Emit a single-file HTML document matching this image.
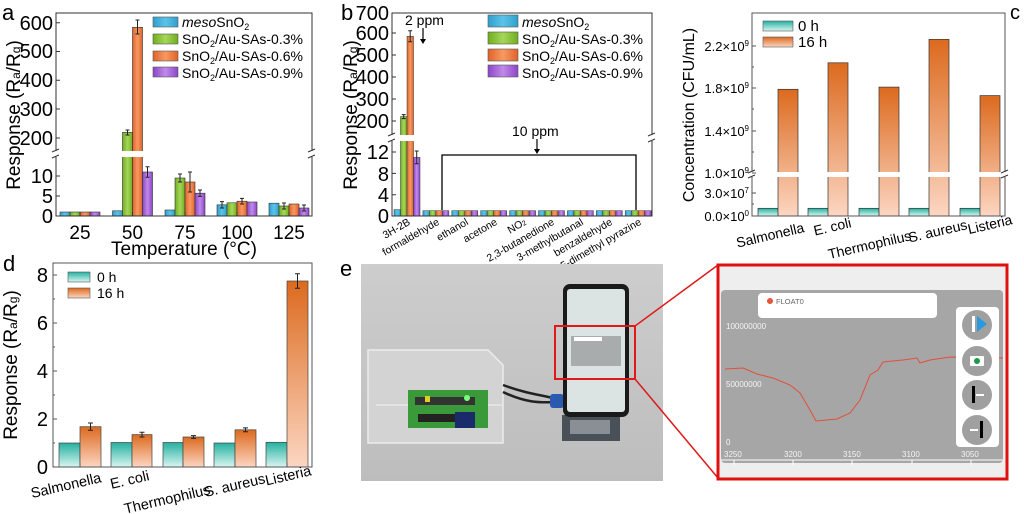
<!DOCTYPE html>
<html><head><meta charset="utf-8"><style>
html,body{margin:0;padding:0;background:#fff}
svg{display:block}
text{font-family:"Liberation Sans",Arial,sans-serif;fill:#000}
</style></head><body>
<svg width="1024" height="514" viewBox="0 0 1024 514" xmlns="http://www.w3.org/2000/svg">
<defs>
<linearGradient id="gB" x1="0" x2="1"><stop offset="0" stop-color="#2f9fce"/><stop offset="0.5" stop-color="#5cc3e8"/><stop offset="1" stop-color="#2f9fce"/></linearGradient>
<linearGradient id="gG" x1="0" x2="1"><stop offset="0" stop-color="#6fae1f"/><stop offset="0.5" stop-color="#a6d65a"/><stop offset="1" stop-color="#6fae1f"/></linearGradient>
<linearGradient id="gO" x1="0" x2="1"><stop offset="0" stop-color="#e0622a"/><stop offset="0.5" stop-color="#f79a62"/><stop offset="1" stop-color="#e0622a"/></linearGradient>
<linearGradient id="gP" x1="0" x2="1"><stop offset="0" stop-color="#8c45c8"/><stop offset="0.5" stop-color="#c08ae8"/><stop offset="1" stop-color="#8c45c8"/></linearGradient>
<linearGradient id="gT" x1="0" y1="0" x2="0" y2="1"><stop offset="0" stop-color="#25b0a0"/><stop offset="1" stop-color="#d8f6f1"/></linearGradient>
<linearGradient id="gR" x1="0" y1="0" x2="0" y2="1"><stop offset="0" stop-color="#dc6a1e"/><stop offset="1" stop-color="#fcd6c2"/></linearGradient>
<linearGradient id="gPh" x1="0" y1="0" x2="0" y2="1"><stop offset="0" stop-color="#cdcdcd"/><stop offset="1" stop-color="#bdbdbd"/></linearGradient>
<g id="g1" stroke="#333" stroke-width="0.5"><rect x="0" y="210.7" width="6.5" height="5.3" fill="url(#gB)"/><rect x="6.5" y="210.7" width="6.5" height="5.3" fill="url(#gG)"/><rect x="13" y="210.7" width="6.5" height="5.3" fill="url(#gO)"/><rect x="19.5" y="210.7" width="6.5" height="5.3" fill="url(#gP)"/></g>
</defs>

<!-- ===== Panel a ===== -->
<text x="2" y="20" font-size="22">a</text>
<g stroke="#333" stroke-width="0.6">
<rect x="60" y="212" width="10" height="4" fill="url(#gB)"/><rect x="70" y="212" width="10" height="4" fill="url(#gG)"/><rect x="80" y="212" width="10" height="4" fill="url(#gO)"/><rect x="90" y="212" width="10" height="4" fill="url(#gP)"/>
<rect x="112.5" y="210.8" width="10" height="5.2" fill="url(#gB)"/>
<rect x="122.5" y="132.3" width="10" height="83.7" fill="url(#gG)"/>
<rect x="132.5" y="27.3" width="10" height="188.7" fill="url(#gO)"/>
<rect x="142.5" y="172" width="10" height="44" fill="url(#gP)"/>
<rect x="165" y="210" width="10" height="6" fill="url(#gB)"/>
<rect x="175" y="178" width="10" height="38" fill="url(#gG)"/>
<rect x="185" y="182" width="10" height="34" fill="url(#gO)"/>
<rect x="195" y="193.2" width="10" height="22.8" fill="url(#gP)"/>
<rect x="217" y="204.8" width="10" height="11.2" fill="url(#gB)"/>
<rect x="227" y="202.8" width="10" height="13.2" fill="url(#gG)"/>
<rect x="237" y="201.2" width="10" height="14.8" fill="url(#gO)"/>
<rect x="247" y="202" width="10" height="14" fill="url(#gP)"/>
<rect x="269" y="203.2" width="10" height="12.8" fill="url(#gB)"/>
<rect x="279" y="206" width="10" height="10" fill="url(#gG)"/>
<rect x="289" y="204" width="10" height="12" fill="url(#gO)"/>
<rect x="299" y="208" width="10" height="8" fill="url(#gP)"/>
</g>
<g stroke="#222" stroke-width="1">
<path d="M127.5 130v5M125.5 130h4M125.5 135h4"/>
<path d="M137.5 20v14M135.5 20h4M135.5 34h4"/>
<path d="M147.5 166.8v10.4M145.5 166.8h4M145.5 177.2h4"/>
<path d="M180 174v8M178 174h4M178 182h4"/>
<path d="M190 172v20M188 172h4M188 192h4"/>
<path d="M200 190v6.4M198 190h4M198 196.4h4"/>
<path d="M222 201.6v6.4M220 201.6h4M220 208h4"/>
<path d="M242 198.4v5.6M240 198.4h4M240 204h4"/>
<path d="M284 203v6M282 203h4M282 209h4"/>
<path d="M304 205v6M302 205h4M302 211h4"/>
</g>
<rect x="57" y="151" width="254" height="6" fill="#fff"/>
<rect x="56" y="13" width="256" height="203" fill="none" stroke="#333" stroke-width="1"/>
<rect x="53" y="151" width="6" height="6" fill="#fff"/><rect x="309" y="151" width="6" height="6" fill="#fff"/>
<path d="M52 152l7-3M52 158l7-3M308 152l7-3M308 158l7-3" stroke="#333" stroke-width="1"/>
<g stroke="#333" stroke-width="1"><path d="M56 22.7h4M56 51.5h4M56 80.3h4M56 109h4M56 138h4M56 176h4M56 196h4M80 216v-4M132.5 216v-4M185 216v-4M237 216v-4M289 216v-4"/></g>
<g font-size="20" text-anchor="end"><text x="53" y="30">600</text><text x="53" y="58">500</text><text x="53" y="87">400</text><text x="53" y="116">300</text><text x="53" y="145">200</text><text x="53" y="183">10</text><text x="53" y="203">5</text><text x="53" y="223">0</text></g>
<g font-size="19" text-anchor="middle"><text x="80" y="239">25</text><text x="132.5" y="239">50</text><text x="185" y="239">75</text><text x="237" y="239">100</text><text x="289" y="239">125</text><text x="184" y="255">Temperature (°C)</text></g>
<text transform="translate(20,115) rotate(-90)" font-size="19" text-anchor="middle">Response (R<tspan font-size="12">a</tspan>/R<tspan font-size="12">g</tspan>)</text>
<g stroke="#555" stroke-width="0.6"><rect x="153" y="17" width="25" height="10" fill="url(#gB)"/><rect x="153" y="34" width="25" height="10" fill="url(#gG)"/><rect x="153" y="51" width="25" height="10" fill="url(#gO)"/><rect x="153" y="67" width="25" height="10" fill="url(#gP)"/></g>
<g font-size="14"><text x="182" y="27"><tspan font-style="italic">meso</tspan>SnO<tspan font-size="9" dy="3">2</tspan></text><text x="182" y="44">SnO<tspan font-size="9" dy="3">2</tspan><tspan dy="-3">/Au-SAs-0.3%</tspan></text><text x="182" y="61">SnO<tspan font-size="9" dy="3">2</tspan><tspan dy="-3">/Au-SAs-0.6%</tspan></text><text x="182" y="78">SnO<tspan font-size="9" dy="3">2</tspan><tspan dy="-3">/Au-SAs-0.9%</tspan></text></g>

<!-- ===== Panel b ===== -->
<text x="341" y="20" font-size="22">b</text>
<g stroke="#333" stroke-width="0.5">
<rect x="394" y="209.6" width="6.5" height="6.4" fill="url(#gB)"/>
<rect x="400.5" y="116.6" width="6.5" height="99.4" fill="url(#gG)"/>
<rect x="407" y="36.3" width="6.5" height="179.7" fill="url(#gO)"/>
<rect x="413.5" y="157.4" width="6.5" height="58.6" fill="url(#gP)"/>
</g>
<use href="#g1" x="422.9"/><use href="#g1" x="451.8"/><use href="#g1" x="480.7"/><use href="#g1" x="509.6"/><use href="#g1" x="538.5"/><use href="#g1" x="567.4"/><use href="#g1" x="596.3"/><use href="#g1" x="625.2"/>
<g stroke="#222" stroke-width="1"><path d="M403.7 114.6v4M401.7 114.6h4M401.7 118.6h4M410.2 30.8v11M408.2 30.8h4M408.2 41.8h4M416.7 151v12.8M414.7 151h4M414.7 163.8h4"/></g>
<rect x="393" y="135" width="258" height="6" fill="#fff"/>
<rect x="392" y="13" width="260" height="203" fill="none" stroke="#333" stroke-width="1"/>
<rect x="389" y="135" width="6" height="6" fill="#fff"/><rect x="649" y="135" width="6" height="6" fill="#fff"/>
<path d="M388 136l7-3M388 142l7-3M648 136l7-3M648 142l7-3" stroke="#333" stroke-width="1"/>
<g stroke="#333" stroke-width="1"><path d="M392 33h4M392 55h4M392 77h4M392 99h4M392 121h4M392 152h4M392 173.4h4M392 194.7h4"/></g>
<g font-size="20" text-anchor="end"><text x="389" y="20">700</text><text x="389" y="40">600</text><text x="389" y="62">500</text><text x="389" y="84">400</text><text x="389" y="106">300</text><text x="389" y="128">200</text><text x="389" y="159">12</text><text x="389" y="181">8</text><text x="389" y="202">4</text><text x="389" y="223">0</text></g>
<text transform="translate(357,115) rotate(-90)" font-size="19" text-anchor="middle">Response (R<tspan font-size="12">a</tspan>/R<tspan font-size="12">g</tspan>)</text>
<text x="405" y="25" font-size="14">2 ppm</text>
<path d="M423 28v13" stroke="#000" stroke-width="1.2"/><path d="M420 39l3 5 3-5z"/>
<text x="512" y="136" font-size="14">10 ppm</text>
<path d="M537 139v12" stroke="#000" stroke-width="1.2"/><path d="M534 149l3 5 3-5z"/>
<path d="M442 210V155H636V210" fill="none" stroke="#000" stroke-width="1.3"/>
<g font-size="10.5" text-anchor="end">
<text transform="translate(411,224) rotate(-30)">3H-2B</text>
<text transform="translate(440,224) rotate(-30)">formaldehyde</text>
<text transform="translate(469,224) rotate(-30)">ethanol</text>
<text transform="translate(498,224) rotate(-30)">acetone</text>
<text transform="translate(527,224) rotate(-30)">NO<tspan font-size="7">2</tspan></text>
<text transform="translate(555,224) rotate(-30)">2,3-butanedione</text>
<text transform="translate(584,224) rotate(-30)">3-methylbutanal</text>
<text transform="translate(613,224) rotate(-30)">benzaldehyde</text>
<text transform="translate(642,224) rotate(-30)">2,5-dimethyl pyrazine</text>
</g>
<g stroke="#555" stroke-width="0.6"><rect x="488" y="15" width="30" height="12" fill="url(#gB)"/><rect x="488" y="32" width="30" height="12" fill="url(#gG)"/><rect x="488" y="49" width="30" height="12" fill="url(#gO)"/><rect x="488" y="65" width="30" height="12" fill="url(#gP)"/></g>
<g font-size="14"><text x="522" y="27"><tspan font-style="italic">meso</tspan>SnO<tspan font-size="9" dy="3">2</tspan></text><text x="522" y="44">SnO<tspan font-size="9" dy="3">2</tspan><tspan dy="-3">/Au-SAs-0.3%</tspan></text><text x="522" y="61">SnO<tspan font-size="9" dy="3">2</tspan><tspan dy="-3">/Au-SAs-0.6%</tspan></text><text x="522" y="78">SnO<tspan font-size="9" dy="3">2</tspan><tspan dy="-3">/Au-SAs-0.9%</tspan></text></g>

<!-- ===== Panel c ===== -->
<text x="1010" y="19" font-size="20">c</text>
<g stroke="#333" stroke-width="0.7">
<rect x="758" y="208.3" width="20" height="7.7" fill="url(#gT)"/><rect x="778" y="89.3" width="20" height="126.7" fill="url(#gR)"/>
<rect x="808" y="208.3" width="20" height="7.7" fill="url(#gT)"/><rect x="828" y="62.8" width="20" height="153.2" fill="url(#gR)"/>
<rect x="859" y="208.3" width="20" height="7.7" fill="url(#gT)"/><rect x="879" y="87.1" width="20" height="128.9" fill="url(#gR)"/>
<rect x="909" y="208.3" width="20" height="7.7" fill="url(#gT)"/><rect x="929" y="39.4" width="20" height="176.6" fill="url(#gR)"/>
<rect x="960" y="208.3" width="20" height="7.7" fill="url(#gT)"/><rect x="980" y="95.6" width="20" height="120.4" fill="url(#gR)"/>
</g>
<rect x="753" y="172" width="251" height="5" fill="#fff"/>
<rect x="752" y="13" width="253" height="203" fill="none" stroke="#555" stroke-width="1"/>
<rect x="749" y="172" width="6" height="5" fill="#fff"/><rect x="1002" y="172" width="6" height="5" fill="#fff"/>
<path d="M748 173l7-3M748 178l7-3M1001 173l7-3M1001 178l7-3" stroke="#333" stroke-width="1"/>
<g stroke="#555" stroke-width="1"><path d="M752 46h4M752 88h4M752 131h4M752 173h4M752 193h4M752 67h2M752 109h2M752 152h2M752 204h2M778 216v-4M828 216v-4M879 216v-4M929 216v-4M980 216v-4"/></g>
<g font-size="13" text-anchor="end" fill="#333"><text x="749" y="51">2.2×10<tspan font-size="8" dy="-5">9</tspan></text><text x="749" y="93">1.8×10<tspan font-size="8" dy="-5">9</tspan></text><text x="749" y="136">1.4×10<tspan font-size="8" dy="-5">9</tspan></text><text x="749" y="178">1.0×10<tspan font-size="8" dy="-5">9</tspan></text><text x="749" y="198">3.0×10<tspan font-size="8" dy="-5">7</tspan></text><text x="749" y="221">0.0×10<tspan font-size="8" dy="-5">0</tspan></text></g>
<text transform="translate(694,115) rotate(-90)" font-size="16" text-anchor="middle">Concentration (CFU/mL)</text>
<g stroke="#555" stroke-width="0.6"><rect x="763" y="21" width="30" height="10" fill="url(#gT)"/><rect x="763" y="37" width="30" height="10" fill="url(#gR)"/></g>
<g font-size="15"><text x="798" y="31">0 h</text><text x="798" y="47">16 h</text></g>
<g font-size="14" text-anchor="end">
<text transform="translate(805,232) rotate(-13)">Salmonella</text>
<text transform="translate(852,227) rotate(-13)">E. coli</text>
<text transform="translate(912,240) rotate(-13)">Thermophilus</text>
<text transform="translate(968,229) rotate(-13)">S. aureus</text>
<text transform="translate(1013,224) rotate(-13)">Listeria</text>
</g>

<!-- ===== Panel d ===== -->
<text x="3" y="271" font-size="22">d</text>
<g stroke="#444" stroke-width="0.7">
<rect x="59" y="443" width="21" height="24" fill="url(#gT)"/><rect x="80" y="426.7" width="21" height="40.3" fill="url(#gR)"/>
<rect x="111" y="442.5" width="21" height="24.5" fill="url(#gT)"/><rect x="132" y="434.6" width="20" height="32.4" fill="url(#gR)"/>
<rect x="163" y="442.5" width="20" height="24.5" fill="url(#gT)"/><rect x="183" y="437" width="21" height="30" fill="url(#gR)"/>
<rect x="214" y="443" width="21" height="24" fill="url(#gT)"/><rect x="235" y="429.8" width="21" height="37.2" fill="url(#gR)"/>
<rect x="266" y="442.3" width="21" height="24.7" fill="url(#gT)"/><rect x="287" y="281" width="21" height="186" fill="url(#gR)"/>
</g>
<g stroke="#222" stroke-width="1"><path d="M90.5 423v7.2M88 423h5M88 430.2h5M142 432.2v4.8M139.5 432.2h5M139.5 437h5M193.5 435.6v2.8M191 435.6h5M191 438.4h5M245.5 427.9v3.8M243 427.9h5M243 431.7h5M297.5 273.8v14.4M295 273.8h5M295 288.2h5"/></g>
<rect x="53" y="263" width="259" height="204" fill="none" stroke="#555" stroke-width="1"/>
<g stroke="#555" stroke-width="1"><path d="M53 275h4M53 323h4M53 371h4M53 419h4M53 299h2M53 347h2M53 395h2M53 443h2M80 467v-4M132 467v-4M183 467v-4M235 467v-4M287 467v-4"/></g>
<g font-size="20" text-anchor="end"><text x="48" y="282">8</text><text x="48" y="330">6</text><text x="48" y="378">4</text><text x="48" y="426">2</text><text x="48" y="474">0</text></g>
<text transform="translate(17,365) rotate(-90)" font-size="19" text-anchor="middle">Response (R<tspan font-size="12">a</tspan>/R<tspan font-size="12">g</tspan>)</text>
<g stroke="#555" stroke-width="0.6"><rect x="68" y="272" width="22" height="10" fill="url(#gT)"/><rect x="68" y="288" width="22" height="10" fill="url(#gR)"/></g>
<g font-size="14"><text x="97" y="282">0 h</text><text x="97" y="298">16 h</text></g>
<g font-size="14.5" text-anchor="end">
<text transform="translate(102,482) rotate(-13)">Salmonella</text>
<text transform="translate(150,480) rotate(-13)">E. coli</text>
<text transform="translate(211,494) rotate(-13)">Thermophilus</text>
<text transform="translate(266,483) rotate(-13)">S. aureus</text>
<text transform="translate(312,475) rotate(-13)">Listeria</text>
</g>

<!-- ===== Panel e ===== -->
<text x="340" y="276" font-size="22">e</text>
<rect x="361" y="264" width="302" height="217" fill="url(#gPh)"/>
<path d="M368 350L488 350L503 365L503 443L368 443Z" fill="#d3d3d3" stroke="#ececec" stroke-width="1.5"/>
<path d="M376 405L503 405" stroke="#e8e8e8" stroke-width="1.5"/>
<rect x="408" y="390" width="80" height="38" fill="#3a9a3a"/>
<rect x="415" y="397" width="60" height="8" fill="#333"/>
<rect x="418" y="414" width="40" height="8" fill="#222"/>
<rect x="455" y="412" width="20" height="16" fill="#1a2a6a"/>
<circle cx="467" cy="398" r="3" fill="#7cff7c"/>
<rect x="425" y="396" width="5" height="6" fill="#e0d020"/>
<path d="M503 385C530 395 545 395 560 400M503 392C530 405 545 402 560 402" stroke="#222" stroke-width="2.5" fill="none"/>
<rect x="550" y="394" width="14" height="14" rx="3" fill="#2a5ab0"/>
<rect x="562" y="415" width="58" height="26" fill="#4a5058"/>
<rect x="570" y="420" width="40" height="14" fill="#8a8f95"/>
<rect x="563" y="284" width="66" height="133" rx="7" fill="#1a1a1a"/>
<rect x="567" y="289" width="58" height="123" rx="3" fill="#dbe3e3"/>
<rect x="571" y="336" width="50" height="30" fill="#a8acac"/>
<rect x="574" y="337" width="28" height="4" fill="#fff"/>
<rect x="555" y="326" width="80" height="53" fill="none" stroke="#e01818" stroke-width="2"/>
<path d="M635 326L718 265M635 379L718 478" stroke="#e01818" stroke-width="1.5"/>
<rect x="718" y="265" width="289" height="214" fill="#eeeeee" stroke="#e01010" stroke-width="3"/>
<rect x="721" y="290" width="282" height="173" rx="4" fill="#a6a6a6"/>
<rect x="758" y="293" width="179" height="25" rx="4" fill="#fff"/>
<circle cx="770" cy="301" r="3" fill="#e8553a"/>
<text x="776" y="304" font-size="7.5" style="fill:#666">FLOAT0</text>
<g font-size="8"><text x="726" y="329" style="fill:#f4f4f4">100000000</text><text x="726" y="387" style="fill:#f4f4f4">50000000</text><text x="726" y="445" style="fill:#f4f4f4">0</text>
<text x="724" y="457" style="fill:#f4f4f4">3250</text><text x="784" y="457" style="fill:#f4f4f4">3200</text><text x="843" y="457" style="fill:#f4f4f4">3150</text><text x="902" y="457" style="fill:#f4f4f4">3100</text><text x="961" y="457" style="fill:#f4f4f4">3050</text></g>
<path d="M721 460H1003M734 460v5M793 460v5M852 460v5M912 460v5M971 460v5" stroke="#fff" stroke-width="1"/>
<polyline points="725,369 743,368 757,374 773,378 790,385 800,393 810,410 816,421 837,419 850,413 860,400 870,375 878,370 883,362 903,360 917,358 920,363 930,360 950,357 1003,358" fill="none" stroke="#e0503a" stroke-width="1"/>
<rect x="956" y="307" width="43" height="140" rx="4" fill="#fff"/>
<g fill="#a0a0a0"><circle cx="977" cy="325" r="15"/><circle cx="977" cy="361" r="15"/><circle cx="977" cy="395" r="15"/><circle cx="977" cy="430" r="15"/></g>
<rect x="972" y="316" width="3" height="16" fill="#fff"/><path d="M977 316L987 324L977 332Z" fill="#2a9ae0"/>
<rect x="970" y="356" width="14" height="10" rx="1" fill="#fff"/><circle cx="977" cy="361" r="3" fill="#1a9a4a"/>
<rect x="972" y="386" width="3" height="17" fill="#000"/><rect x="976" y="394" width="8" height="2" fill="#fff"/>
<rect x="980" y="421" width="3" height="17" fill="#000"/><rect x="970" y="429" width="8" height="2" fill="#fff"/>
</svg>
</body></html>
